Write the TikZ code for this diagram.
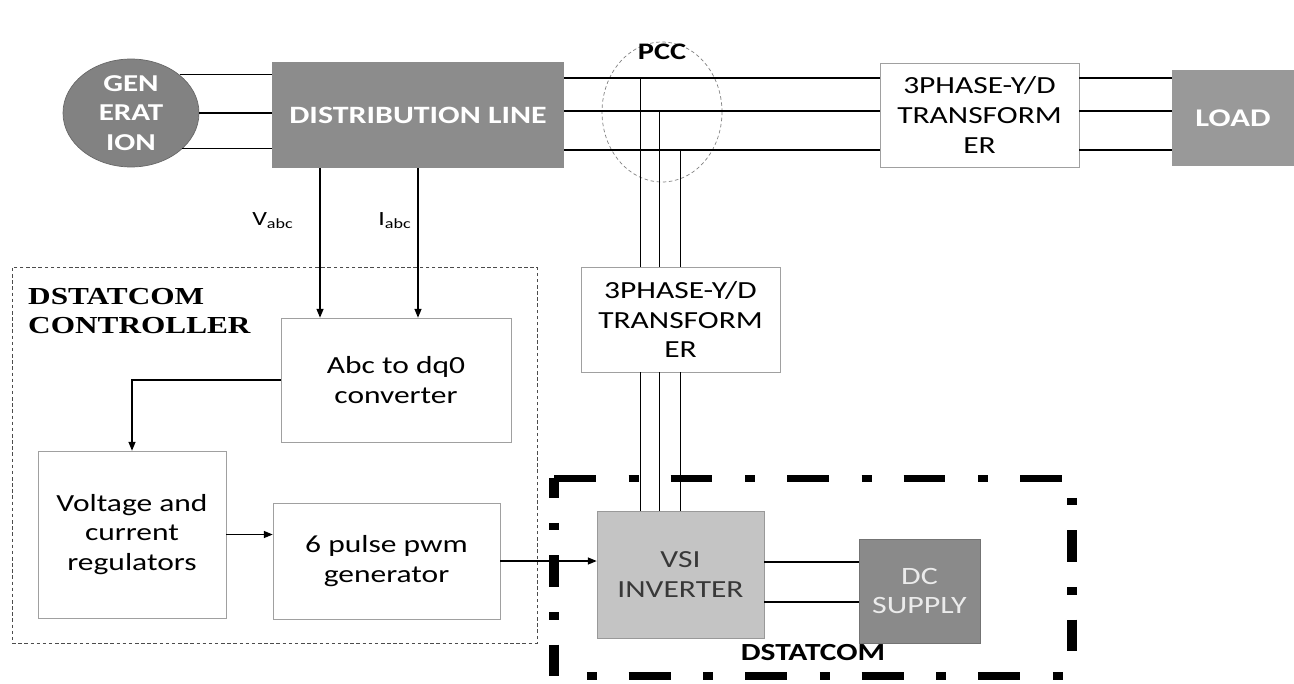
\documentclass[tikz,border=0pt]{standalone}
\usepackage{fontspec}
\setmainfont[FakeStretch=1.28]{Carlito}
\newfontfamily\ctrlfont[FakeStretch=1.28]{Liberation Serif}
\usetikzlibrary{positioning, arrows.meta, shapes.geometric}
\definecolor{genfill}{HTML}{828282}
\definecolor{distfill}{HTML}{8C8C8C}
\definecolor{loadfill}{HTML}{999999}
\definecolor{vsifill}{HTML}{C4C4C4}
\definecolor{dcfill}{HTML}{8A8A8A}
\definecolor{boxline}{HTML}{A0A0A0}
\tikzset{
  darkbox/.style={draw=none, text=white, align=center, font=\bfseries\fontsize{13.8}{17}\selectfont},
  whitebox/.style={rectangle, draw=boxline, fill=white, align=center, font=\fontsize{14}{17}\selectfont},
  wire/.style={line width=0.6pt},
  sig/.style={line width=0.6pt, -{Triangle[length=5pt,width=4pt]}},
  hframe/.style={line width=4pt, dash pattern=on 23.8pt off 18.7pt on 5.7pt off 18.1pt},
  vframe/.style={line width=5.6pt, dash pattern=on 18.1pt off 14.2pt on 4.3pt off 14.2pt},
}

\begin{document}
\begin{tikzpicture}[x=0.02cm, y=-0.02cm]
    \useasboundingbox (0,0) rectangle (1294,683);

    % Outer frames
    \node (ctrlbox) at (274.5,455) [draw=black!70, dash pattern=on 2pt off 1.5pt, minimum width=10.5cm, minimum height=7.52cm, inner sep=0pt] {};
    \node (statbox) at (813,577) [minimum width=10.36cm, minimum height=3.96cm, inner sep=0pt, outer sep=0pt] {};
    \draw[hframe] (statbox.north west) -- (statbox.north east);
    \draw[hframe, dash phase=23.8pt] (statbox.south west) -- (statbox.south east);
    \draw[vframe, dash phase=6.8pt] (statbox.north west) -- (statbox.south west);
    \draw[vframe, dash phase=21pt] (statbox.north east) -- (statbox.south east);

    % Supply side
    \node (gen) at (131,113) [darkbox, ellipse, fill=genfill, draw=genfill!80!black, minimum width=2.72cm, minimum height=2.16cm, inner sep=0pt] {GEN\\ERAT\\ION};
    \node (dist) at (418,115) [darkbox, fill=distfill, minimum width=5.84cm, minimum height=2.12cm, font=\bfseries\fontsize{14.2}{17}\selectfont] {DISTRIBUTION LINE};
    \node (pcc) at (662,112) [ellipse, draw=black!50, dash pattern=on 2pt off 1.5pt, minimum width=2.4cm, minimum height=2.8cm] {};
    \node (pcclabel) at (662,52) [font=\bfseries\fontsize{13.5}{16}\selectfont] {PCC};
    \node (trA) at (979.5,115) [whitebox, minimum width=3.98cm, minimum height=2.08cm] {3PHASE-Y/D\\TRANSFORM\\ER};
    \node (load) at (1233,118) [darkbox, fill=loadfill, minimum width=2.44cm, minimum height=1.92cm, font=\bfseries\fontsize{14.5}{17}\selectfont] {LOAD};

    \draw[wire] (gen.38) -- (gen.38 -| dist.west);
    \draw[wire] (gen.east) -- (gen.east -| dist.west);
    \draw[wire] (gen.-35) -- (gen.-35 -| dist.west);

    \coordinate (busA) at ([yshift=0.74cm]dist.east);
    \coordinate (busB) at ([yshift=0.08cm]dist.east);
    \coordinate (busC) at ([yshift=-0.7cm]dist.east);
    \draw[wire] (busA) -- (busA -| trA.west);
    \draw[wire] (busB) -- (busB -| trA.west);
    \draw[wire] (busC) -- (busC -| trA.west);
    \draw[wire] (busA -| trA.east) -- (busA -| load.west);
    \draw[wire] (busB -| trA.east) -- (busB -| load.west);
    \draw[wire] (busC -| trA.east) -- (busC -| load.west);

    % DSTATCOM side
    \node (trB) at (680.5,319.5) [whitebox, minimum width=3.98cm, minimum height=2.1cm] {3PHASE-Y/D\\TRANSFORM\\ER};
    \node (vsi) at (680.5,574.5) [rectangle, fill=vsifill, draw=black!40, align=center, text=black!78, minimum width=3.34cm, minimum height=2.54cm, font=\fontsize{14}{17}\selectfont] {VSI\\INVERTER};
    \node (dc) at (919.5,591) [rectangle, fill=dcfill, draw=black!55, align=center, text=white!92!black, minimum width=2.42cm, minimum height=2.08cm, font=\fontsize{14.2}{17}\selectfont] {DC\\SUPPLY};
    \node (stattitle) at (813,653) [font=\bfseries\fontsize{14}{16}\selectfont] {DSTATCOM};

    \coordinate (tapA) at ([xshift=-0.8cm]trB.north);
    \coordinate (tapB) at ([xshift=-0.42cm]trB.north);
    \coordinate (tapC) at (trB.north);
    \draw[wire] (tapA |- busA) -- (tapA);
    \draw[wire] (tapB |- busB) -- (tapB);
    \draw[wire] (tapC |- busC) -- (tapC);
    \draw[wire] (tapA |- trB.south) -- (tapA |- vsi.north);
    \draw[wire] (tapB |- trB.south) -- (tapB |- vsi.north);
    \draw[wire] (tapC |- trB.south) -- (tapC |- vsi.north);

    \coordinate (dcA) at ([yshift=0.25cm]vsi.east);
    \coordinate (dcB) at ([yshift=-0.55cm]vsi.east);
    \draw[wire] (dcA) -- (dcA -| dc.west);
    \draw[wire] (dcB) -- (dcB -| dc.west);

    % Controller
    \node (ctrltitle) at (22,311) [anchor=west, align=left, font=\ctrlfont\bfseries\fontsize{13.9}{16.2}\selectfont] {DSTATCOM\\CONTROLLER};
    \node (abc) at (396,380) [whitebox, minimum width=4.6cm, minimum height=2.48cm] {Abc to dq0\\converter};
    \node (reg) at (132,534.5) [whitebox, minimum width=3.76cm, minimum height=3.34cm] {Voltage and\\current\\regulators};
    \node (pwm) at (386.5,561) [whitebox, minimum width=4.54cm, minimum height=2.32cm] {6 pulse pwm\\generator};

    \coordinate (vin) at ([xshift=-1.52cm]abc.north);
    \coordinate (iin) at ([xshift=0.44cm]abc.north);
    \draw[sig] (vin |- dist.south) -- node[pos=0.35, left=0.4cm, font=\fontsize{11.5}{14}\selectfont] {V\textsubscript{abc}} (vin);
    \draw[sig] (iin |- dist.south) -- node[pos=0.35, left=0cm, font=\fontsize{11.5}{14}\selectfont] {I\textsubscript{abc}} (iin);
    \draw[sig] (abc.west) -| (reg.north);
    \draw[sig] (reg.east) -- (reg.east -| pwm.west);
    \draw[sig] (pwm.east) -- (pwm.east -| vsi.west);
\end{tikzpicture}
\end{document}
